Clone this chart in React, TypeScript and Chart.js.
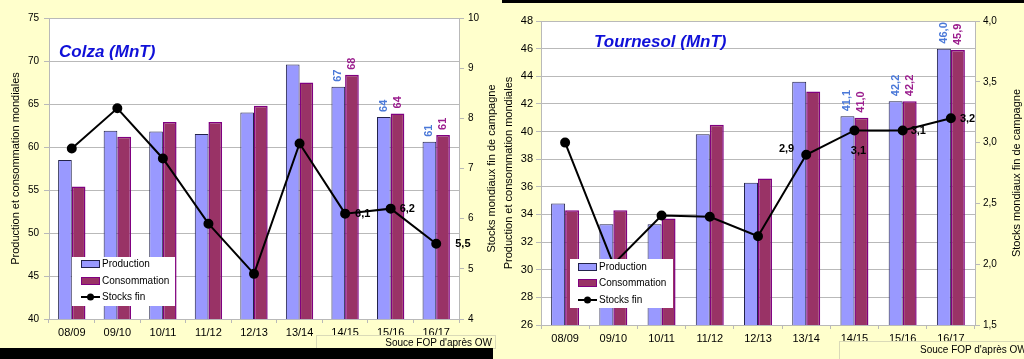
import React, { useEffect, useRef } from "react";
import { Chart, registerables } from "chart.js";

Chart.register(...registerables);

// ---------------- DATA ----------------
const seasons = ["08/09", "09/10", "10/11", "11/12", "12/13", "13/14", "14/15", "15/16", "16/17"];

const colzaProduction = [58.5, 61.9, 61.8, 61.5, 64.0, 69.6, 67.0, 63.5, 60.6];
const colzaConsommation = [55.4, 61.2, 62.9, 62.9, 64.8, 67.5, 68.4, 63.9, 61.4];
const colzaStocks = [7.4, 8.2, 7.2, 5.9, 4.9, 7.5, 6.1, 6.2, 5.5];
const colzaLeftTicks = [40, 45, 50, 55, 60, 65, 70, 75];
const colzaRightTicks = [4, 5, 6, 7, 8, 9, 10];

const tournesolProduction = [34.8, 33.3, 33.3, 39.8, 36.3, 43.6, 41.1, 42.2, 46.0];
const tournesolConsommation = [34.3, 34.3, 33.7, 40.5, 36.6, 42.9, 41.0, 42.2, 45.9];
const tournesolStocks = [3.0, 2.0, 2.4, 2.39, 2.23, 2.9, 3.1, 3.1, 3.2];
const tournesolLeftTicks = [26, 28, 30, 32, 34, 36, 38, 40, 42, 44, 46, 48];
const tournesolRightTicks = [1.5, 2.0, 2.5, 3.0, 3.5, 4.0];

const seriesNames = ["Production", "Consommation", "Stocks fin"];
const leftAxisTitle = "Production et consommation mondiales";
const rightAxisTitle = "Stocks mondiaux fin de campagne";
const sourceText = "Souce FOP d'après OW";

// ---------------- STYLE ----------------
const FONT = "'Liberation Sans', Arial, Helvetica, sans-serif";
const PANEL_BG = "#FFFFCC";
const GRID = "#B9B9B9";
const PROD_FILL = "#9999FF";
const PROD_BORDER = "#22224A";
const CONS_FILL = "#993366";
const CONS_BORDER = "#800080";
const PROD_LABEL = "#4A78D8";
const CONS_LABEL = "#9B1E8E";
const TITLE_COLOR = "#1010D8";
const AXIS_TITLE_SIZE = 11;

type StockLabel = { i: number; dx: number; dy: number; align: CanvasTextAlign };

interface Spec {
  title: string;
  prod: number[];
  cons: number[];
  stocks: number[];
  leftTicks: number[];
  rightTicks: number[];
  rightDecimals: number;
  barDecimals: number;
  barLabelIdx: number[];
  stockLabels: StockLabel[];
  x: number;
  y: number;
  w: number;
  h: number;
  padTop: number;
  leftW: number;
  rightW: number;
  xH: number;
  leftTickPad: number;
  rightTickPad: number;
  leftTitlePad: number;
  rightTitleX: number;
  leftTickSize: number;
  rightTickSize: number;
  catPct: number;
  titlePos: { x: number; y: number };
  legend: { x: number; y: number; w: number; h: number; rows: number[]; swX: number; txtX: number };
}

const fmt = (v: number, d: number) => v.toFixed(d).replace(".", ",");

function overlayPlugin(spec: Spec) {
  return {
    id: "overlay",
    beforeDraw(chart: any) {
      const { ctx, chartArea: a } = chart;
      ctx.save();
      ctx.fillStyle = "#FFFFFF";
      ctx.fillRect(a.left, a.top, a.right - a.left, a.bottom - a.top);
      ctx.restore();
    },
    afterDatasetsDraw(chart: any) {
      const { ctx } = chart;
      const a = chart.chartArea;
      ctx.save();
      // rotated bar value labels
      const barColors = [PROD_LABEL, CONS_LABEL];
      [0, 1].forEach((di) => {
        const meta = chart.getDatasetMeta(di);
        const data = chart.data.datasets[di].data as number[];
        spec.barLabelIdx.forEach((i) => {
          const el = meta.data[i];
          if (!el) return;
          ctx.save();
          ctx.translate(el.x, el.y - 5);
          ctx.rotate(-Math.PI / 2);
          ctx.font = `bold 11px ${FONT}`;
          ctx.fillStyle = barColors[di];
          ctx.textAlign = "left";
          ctx.textBaseline = "middle";
          ctx.fillText(fmt(data[i], spec.barDecimals), 0, 0);
          ctx.restore();
        });
      });
      // stock labels
      const lmeta = chart.getDatasetMeta(2);
      const sdata = chart.data.datasets[2].data as number[];
      spec.stockLabels.forEach((l) => {
        const el = lmeta.data[l.i];
        if (!el) return;
        ctx.font = `bold 11px ${FONT}`;
        ctx.fillStyle = "#000";
        ctx.textAlign = l.align;
        ctx.textBaseline = "middle";
        ctx.fillText(fmt(sdata[l.i], 1), el.x + l.dx, el.y + l.dy);
      });
      // chart title
      ctx.font = `italic bold 17px ${FONT}`;
      ctx.fillStyle = TITLE_COLOR;
      ctx.textAlign = "left";
      ctx.textBaseline = "middle";
      ctx.fillText(spec.title, a.left + spec.titlePos.x, a.top + spec.titlePos.y);
      // right axis title (reads bottom to top)
      ctx.save();
      ctx.translate(spec.rightTitleX, (a.top + a.bottom) / 2);
      ctx.rotate(-Math.PI / 2);
      ctx.font = `${AXIS_TITLE_SIZE}px ${FONT}`;
      ctx.fillStyle = "#000";
      ctx.textAlign = "center";
      ctx.textBaseline = "middle";
      ctx.fillText(rightAxisTitle, 0, 0);
      ctx.restore();
      // legend
      const L = spec.legend;
      ctx.fillStyle = "#FFFFFF";
      ctx.fillRect(L.x, L.y, L.w, L.h);
      ctx.font = `10px ${FONT}`;
      ctx.textAlign = "left";
      ctx.textBaseline = "middle";
      ctx.fillStyle = PROD_FILL;
      ctx.fillRect(L.swX, L.rows[0] - 3.5, 19, 7);
      ctx.strokeStyle = PROD_BORDER;
      ctx.lineWidth = 1;
      ctx.strokeRect(L.swX + 0.5, L.rows[0] - 3.5, 18, 7);
      ctx.fillStyle = CONS_FILL;
      ctx.fillRect(L.swX, L.rows[1] - 3.5, 19, 7);
      ctx.strokeStyle = CONS_BORDER;
      ctx.strokeRect(L.swX + 0.5, L.rows[1] - 3.5, 18, 7);
      ctx.strokeStyle = "#000";
      ctx.lineWidth = 2;
      ctx.beginPath();
      ctx.moveTo(L.swX, L.rows[2]);
      ctx.lineTo(L.swX + 19, L.rows[2]);
      ctx.stroke();
      ctx.fillStyle = "#000";
      ctx.beginPath();
      ctx.arc(L.swX + 9.5, L.rows[2], 3.5, 0, Math.PI * 2);
      ctx.fill();
      seriesNames.forEach((n, k) => ctx.fillText(n, L.txtX, L.rows[k] + 0.5));
      ctx.restore();
    },
  };
}

function buildConfig(spec: Spec): any {
  const lt = spec.leftTicks;
  const rt = spec.rightTicks;
  return {
    type: "bar",
    data: {
      labels: seasons,
      datasets: [
        {
          type: "bar",
          label: seriesNames[0],
          data: spec.prod,
          backgroundColor: PROD_FILL,
          borderColor: PROD_BORDER,
          borderWidth: 1,
          yAxisID: "y",
          order: 1,
          barPercentage: 1,
          categoryPercentage: spec.catPct,
        },
        {
          type: "bar",
          label: seriesNames[1],
          data: spec.cons,
          backgroundColor: CONS_FILL,
          borderColor: CONS_BORDER,
          borderWidth: 1.5,
          yAxisID: "y",
          order: 1,
          barPercentage: 1,
          categoryPercentage: spec.catPct,
        },
        {
          type: "line",
          label: seriesNames[2],
          data: spec.stocks,
          borderColor: "#000",
          backgroundColor: "#000",
          pointBackgroundColor: "#000",
          pointBorderColor: "#000",
          pointRadius: 4,
          borderWidth: 2,
          tension: 0,
          yAxisID: "y1",
          order: 0,
        },
      ],
    },
    options: {
      animation: false,
      responsive: false,
      devicePixelRatio: 1,
      layout: { padding: { top: spec.padTop, left: 0, right: 0, bottom: 0 } },
      plugins: { legend: { display: false }, tooltip: { enabled: false } },
      scales: {
        x: {
          grid: { offset: true, drawOnChartArea: false, tickLength: 4, color: GRID },
          border: { color: GRID },
          ticks: { font: { family: FONT, size: 11 }, color: "#000", padding: 3, maxRotation: 0, autoSkip: false },
          afterFit: (s: any) => {
            s.height = spec.xH;
          },
        },
        y: {
          position: "left",
          min: lt[0],
          max: lt[lt.length - 1],
          ticks: {
            stepSize: lt[1] - lt[0],
            font: { family: FONT, size: spec.leftTickSize },
            color: "#000",
            padding: spec.leftTickPad,
          },
          grid: { color: GRID, tickLength: 5 },
          border: { color: GRID },
          title: {
            display: true,
            text: leftAxisTitle,
            font: { family: FONT, size: AXIS_TITLE_SIZE },
            color: "#000",
            padding: { top: spec.leftTitlePad, bottom: 0 },
          },
          afterFit: (s: any) => {
            s.width = spec.leftW;
          },
        },
        y1: {
          position: "right",
          min: rt[0],
          max: rt[rt.length - 1],
          ticks: {
            stepSize: rt[1] - rt[0],
            font: { family: FONT, size: spec.rightTickSize },
            color: "#000",
            padding: spec.rightTickPad,
            callback: (v: any) => fmt(Number(v), spec.rightDecimals),
          },
          grid: { drawOnChartArea: false, color: GRID, tickLength: 5 },
          border: { color: GRID },
          title: { display: false },
          afterFit: (s: any) => {
            s.width = spec.rightW;
          },
        },
      },
    },
    plugins: [overlayPlugin(spec)],
  };
}

const colzaSpec: Spec = {
  title: "Colza (MnT)",
  prod: colzaProduction,
  cons: colzaConsommation,
  stocks: colzaStocks,
  leftTicks: colzaLeftTicks,
  rightTicks: colzaRightTicks,
  rightDecimals: 0,
  barDecimals: 0,
  barLabelIdx: [6, 7, 8],
  stockLabels: [
    { i: 6, dx: 10, dy: 0, align: "left" },
    { i: 7, dx: 9, dy: 0, align: "left" },
    { i: 8, dx: 19, dy: 0, align: "left" },
  ],
  x: 0,
  y: 0,
  w: 502,
  h: 348,
  padTop: 18,
  leftW: 49,
  rightW: 43,
  xH: 29,
  leftTickPad: 5,
  rightTickPad: 4,
  leftTitlePad: 9,
  rightTitleX: 492,
  leftTickSize: 10,
  rightTickSize: 10,
  catPct: 0.6,
  titlePos: { x: 10, y: 34 },
  legend: { x: 72, y: 257, w: 103, h: 49, rows: [264, 281, 297], swX: 81, txtX: 102 },
};

const tournesolSpec: Spec = {
  title: "Tournesol (MnT)",
  prod: tournesolProduction,
  cons: tournesolConsommation,
  stocks: tournesolStocks,
  leftTicks: tournesolLeftTicks,
  rightTicks: tournesolRightTicks,
  rightDecimals: 1,
  barDecimals: 1,
  barLabelIdx: [6, 7, 8],
  stockLabels: [
    { i: 5, dx: -12, dy: -6, align: "right" },
    { i: 6, dx: 4, dy: 21, align: "center" },
    { i: 7, dx: 8, dy: 1, align: "left" },
    { i: 8, dx: 9, dy: 1, align: "left" },
  ],
  x: 502,
  y: 3,
  w: 522,
  h: 356,
  padTop: 18,
  leftW: 39,
  rightW: 49,
  xH: 34,
  leftTickPad: 3,
  rightTickPad: 3,
  leftTitlePad: 0,
  rightTitleX: 515,
  leftTickSize: 11,
  rightTickSize: 10,
  catPct: 0.58,
  titlePos: { x: 53, y: 21 },
  legend: { x: 68, y: 256, w: 103, h: 49, rows: [264, 280, 297], swX: 76, txtX: 97 },
};

function Panel({ spec }: { spec: Spec }) {
  const ref = useRef<HTMLCanvasElement>(null);
  useEffect(() => {
    const chart = new Chart(ref.current as HTMLCanvasElement, buildConfig(spec));
    return () => chart.destroy();
  }, [spec]);
  return (
    <canvas
      ref={ref}
      width={spec.w}
      height={spec.h}
      style={{ position: "absolute", left: spec.x, top: spec.y, width: spec.w, height: spec.h, display: "block" }}
    />
  );
}

export default function App() {
  return (
    <div
      style={{
        position: "fixed",
        left: 0,
        top: 0,
        width: 1024,
        height: 359,
        overflow: "hidden",
        background: PANEL_BG,
      }}
    >
      <div style={{ position: "absolute", left: 502, top: 0, width: 522, height: 3, background: "#000" }} />
      <Panel spec={colzaSpec} />
      <Panel spec={tournesolSpec} />
      <div
        style={{
          position: "absolute",
          left: 316,
          top: 335,
          width: 180,
          height: 14,
          border: "1px solid #DADAB8",
          boxSizing: "border-box",
          fontFamily: FONT,
          fontSize: 10,
          lineHeight: "13px",
          textAlign: "right",
          paddingRight: 3,
          color: "#000",
          whiteSpace: "nowrap",
          overflow: "hidden",
        }}
      >
        {sourceText}
      </div>
      <div
        style={{
          position: "absolute",
          left: 839,
          top: 341,
          width: 190,
          height: 20,
          border: "1px solid #DADAB8",
          boxSizing: "border-box",
          fontFamily: FONT,
          fontSize: 10,
          lineHeight: "16px",
          paddingLeft: 80,
          color: "#000",
          whiteSpace: "nowrap",
        }}
      >
        {sourceText}
      </div>
      <div style={{ position: "absolute", left: 0, top: 348, width: 493, height: 11, background: "#000" }} />
    </div>
  );
}
